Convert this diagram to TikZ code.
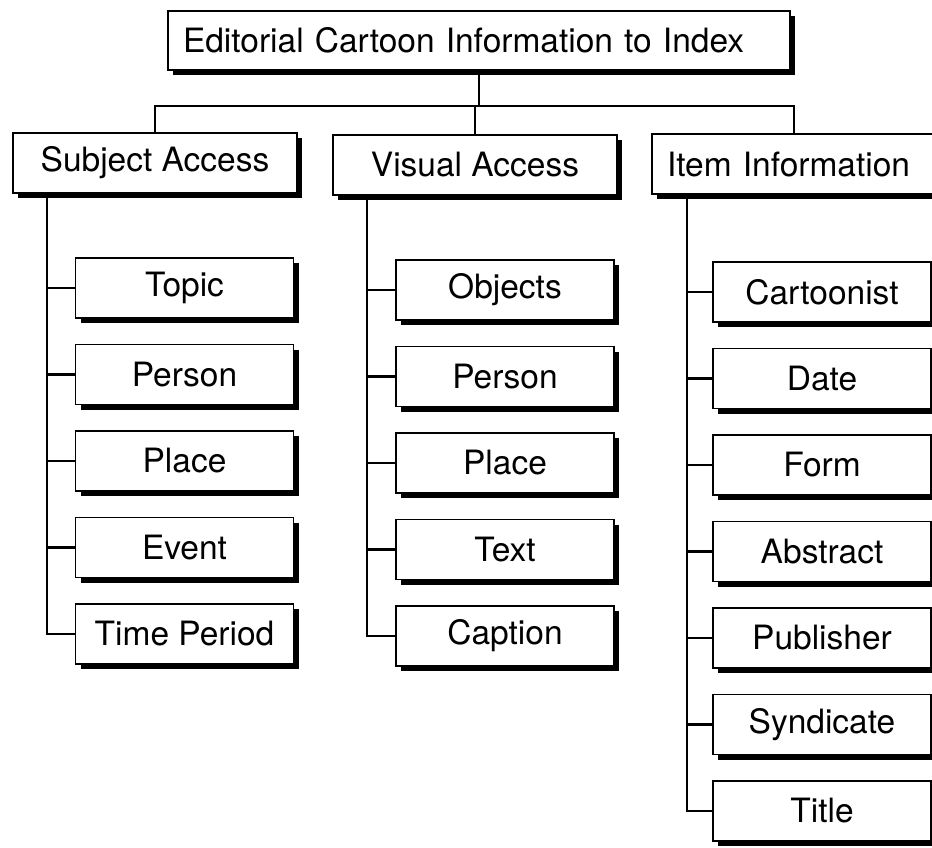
\documentclass[tikz,border=0pt]{standalone}
\usepackage{fontspec}
\setmainfont{TeX Gyre Heros}
\usetikzlibrary{shadows}
\usetikzlibrary{positioning}
\tikzset{
    card/.style={
      rectangle,
      draw=black, line width=1.8pt,
      fill=white,
      minimum width=218pt,
      minimum height=60pt,
      inner sep=0pt,
      text centered,
      font=\fontsize{33.5}{38}\selectfont,
      drop shadow={shadow xshift=5pt, shadow yshift=-5pt,
        fill=black, opacity=1},
    },
    head/.style={
      card,
      minimum width=284pt,
    },
    link/.style={
      draw=black, line width=2.6pt,
    },
}

\begin{document}
\begin{tikzpicture}[x=1pt,y=-1pt]

    \useasboundingbox (0,0) rectangle (932,848);

    % top of the tree
    \node[card, minimum width=622pt, minimum height=59pt,
    inner xsep=15pt, text width=592pt, align=left] (TITLE)
    at (479,40.5) {Editorial Cartoon Information to Index};

    \node[head] (SUBJ) at (155,163) {Subject Access};
    \node[head] (VIS) at (475,165) {Visual Access};
    \node[head, inner xsep=15pt, text width=254pt, align=left] (ITEM)
    at (794,164) {Item Information};

    % subject access
    \node[card] (TOPIC) at (184.5,288) {Topic};
    \node[card, below of=TOPIC, node distance=86.5pt] (SPERSON) {Person};
    \node[card, below of=SPERSON, node distance=86.5pt] (SPLACE) {Place};
    \node[card, below of=SPLACE, node distance=86.5pt] (EVENT) {Event};
    \node[card, below of=EVENT, node distance=86.5pt] (PERIOD) {Time Period};

    % visual access
    \node[card] (OBJECTS) at (505,290) {Objects};
    \node[card, below of=OBJECTS, node distance=86.5pt] (VPERSON) {Person};
    \node[card, below of=VPERSON, node distance=86.5pt] (VPLACE) {Place};
    \node[card, below of=VPLACE, node distance=86.5pt] (TEXT) {Text};
    \node[card, below of=TEXT, node distance=86.5pt] (CAPTION) {Caption};

    % item information
    \node[card] (CARTOONIST) at (822,292) {Cartoonist};
    \node[card, below of=CARTOONIST, node distance=86.5pt] (DATE) {Date};
    \node[card, below of=DATE, node distance=86.5pt] (FORM) {Form};
    \node[card, below of=FORM, node distance=86.5pt] (ABSTRACT) {Abstract};
    \node[card, below of=ABSTRACT, node distance=86.5pt] (PUBLISHER) {Publisher};
    \node[card, below of=PUBLISHER, node distance=86.5pt] (SYNDICATE) {Syndicate};
    \node[card, below of=SYNDICATE, node distance=86.5pt] (ITITLE) {Title};

    % connectors
    \coordinate (BUS) at (0,106);
    \draw[link] (TITLE.south) -- (TITLE.south |- BUS);
    \draw[link] (SUBJ.north) |- (ITEM.north |- BUS) -- (ITEM.north);
    \draw[link] (VIS.north) -- (VIS.north |- BUS);

    \coordinate (STRUNK) at ([xshift=35pt]SUBJ.south west);
    \coordinate (VTRUNK) at ([xshift=35pt]VIS.south west);
    \coordinate (ITRUNK) at ([xshift=36pt]ITEM.south west);

    \draw[link] (STRUNK) |- (PERIOD.west);
    \foreach \c in {TOPIC,SPERSON,SPLACE,EVENT}
      \draw[link] (STRUNK |- \c.west) -- (\c.west);

    \draw[link] (VTRUNK) |- (CAPTION.west);
    \foreach \c in {OBJECTS,VPERSON,VPLACE,TEXT}
      \draw[link] (VTRUNK |- \c.west) -- (\c.west);

    \draw[link] (ITRUNK) |- (ITITLE.west);
    \foreach \c in {CARTOONIST,DATE,FORM,ABSTRACT,PUBLISHER,SYNDICATE}
      \draw[link] (ITRUNK |- \c.west) -- (\c.west);

\end{tikzpicture}
\end{document}
